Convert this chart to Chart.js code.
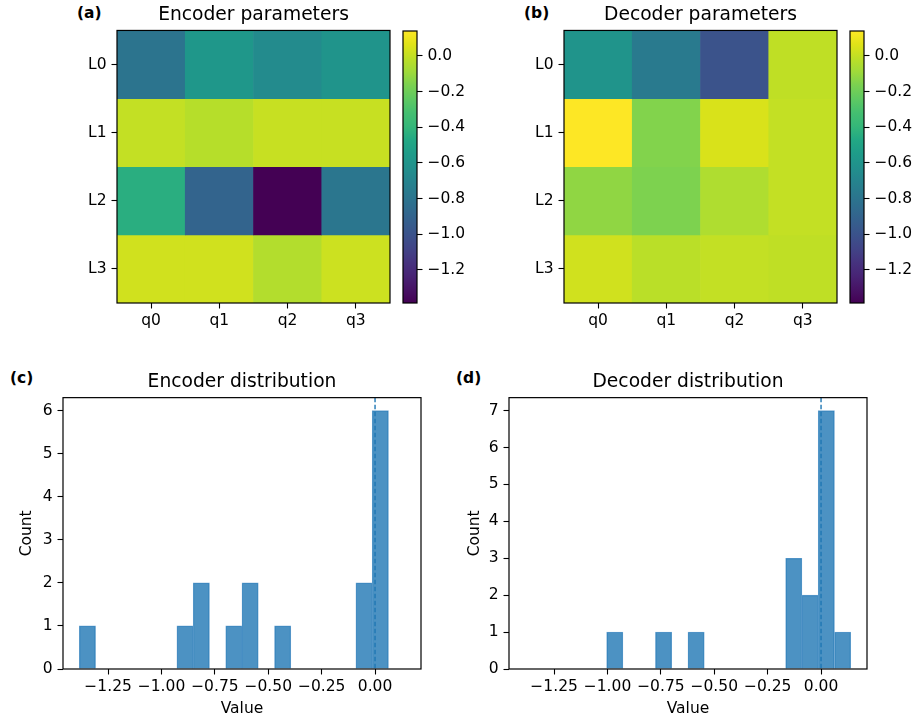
<!DOCTYPE html>
<html>
<head>
<meta charset="utf-8">
<script src="https://cdn.jsdelivr.net/npm/chart.js@4.4.1/dist/chart.umd.min.js"></script>
<style>
  body { margin: 0; background: #fff; }
  #wrap { position: relative; width: 917px; height: 724px; overflow: hidden; font-family: "DejaVu Sans", sans-serif; }
  canvas { position: absolute; }
  .tag { position: absolute; font-weight: bold; font-size: 15.5px; line-height: 1; color: #000; }
</style>
</head>
<body>
<div id="wrap">
  <div class="tag" style="left:77px;top:6px">(a)</div>
  <div class="tag" style="left:524px;top:6px">(b)</div>
  <div class="tag" style="left:10px;top:371px">(c)</div>
  <div class="tag" style="left:456px;top:371px">(d)</div>
  <canvas id="heatA" width="335" height="340" style="left:60px;top:0px"></canvas>
  <canvas id="cbarA" width="75" height="340" style="left:395px;top:0px"></canvas>
  <canvas id="heatB" width="335" height="340" style="left:507px;top:0px"></canvas>
  <canvas id="cbarB" width="75" height="340" style="left:842px;top:0px"></canvas>
  <canvas id="histC" width="430" height="364" style="left:0px;top:360px"></canvas>
  <canvas id="histD" width="477" height="364" style="left:440px;top:360px"></canvas>
</div>
<script>
const rowLabels = ["L0", "L1", "L2", "L3"];
const colLabels = ["q0", "q1", "q2", "q3"];

// encoder / decoder parameter grids, rows L0..L3, columns q0..q3
const encoderParams = [
  [-0.80, -0.58, -0.66, -0.60],
  [0.00, -0.03, 0.01, 0.01],
  [-0.44, -0.90, -1.385, -0.79],
  [0.03, 0.03, -0.04, 0.02]
];
const decoderParams = [
  [-0.60, -0.76, -1.00, -0.01],
  [0.139, -0.15, 0.05, 0.00],
  [-0.12, -0.16, -0.05, 0.00],
  [0.03, -0.02, 0.00, -0.01]
];

// histogram counts, 20 bins between the overall min and max
const encoderCounts = [1, 0, 0, 0, 0, 0, 1, 2, 0, 1, 2, 0, 1, 0, 0, 0, 0, 2, 6, 0];
const decoderCounts = [0, 0, 0, 0, 0, 1, 0, 0, 1, 0, 1, 0, 0, 0, 0, 0, 3, 2, 7, 1];

const colorbarTicks = [-1.2, -1.0, -0.8, -0.6, -0.4, -0.2, 0.0];
const histTicks = [-1.25, -1.0, -0.75, -0.5, -0.25, 0.0];
const refValue = 0;

const allParams = encoderParams.flat().concat(decoderParams.flat());
const vmin = Math.min(...allParams);
const vmax = Math.max(...allParams);
const binW = (vmax - vmin) / encoderCounts.length;
const histMargin = (vmax - vmin) * 0.05;

const viridisStops = ["#440154", "#471365", "#482475", "#46337f", "#414487", "#3b528b", "#355f8d",
  "#2f6c8e", "#2a788e", "#25848e", "#21918c", "#1e9c89", "#22a884", "#35b779", "#44bf70",
  "#5ec962", "#7ad151", "#9fda3a", "#bddf26", "#dfe318", "#fde725"];

function hexRgb(h) {
  return [parseInt(h.slice(1, 3), 16), parseInt(h.slice(3, 5), 16), parseInt(h.slice(5, 7), 16)];
}

function viridis(t) {
  t = Math.max(0, Math.min(1, t));
  const f = t * (viridisStops.length - 1);
  const i = Math.min(Math.floor(f), viridisStops.length - 2);
  const a = hexRgb(viridisStops[i]), b = hexRgb(viridisStops[i + 1]);
  const k = f - i;
  const c = a.map((v, j) => Math.round(v + (b[j] - v) * k));
  return "rgb(" + c.join(",") + ")";
}

function fmt(v, d) {
  return (v < -1e-9 ? "\u2212" : "") + Math.abs(v).toFixed(d);
}

Chart.defaults.font.family = "'DejaVu Sans', sans-serif";
Chart.defaults.color = "#000";

const tickFont = { size: 15.5 };

const frame = {
  id: "frame",
  afterDatasetsDraw(chart) {
    const { ctx, chartArea: a } = chart;
    ctx.save();
    ctx.strokeStyle = "#000";
    ctx.lineWidth = 1.2;
    ctx.strokeRect(a.left, a.top, a.right - a.left, a.bottom - a.top);
    ctx.restore();
  }
};

const refLine = {
  id: "refLine",
  afterDatasetsDraw(chart) {
    const { ctx, chartArea: a } = chart;
    const x = chart.scales.x.getPixelForValue(refValue);
    ctx.save();
    ctx.strokeStyle = "#1f77b4";
    ctx.lineWidth = 1.4;
    ctx.setLineDash([4.5, 2.5]);
    ctx.beginPath();
    ctx.moveTo(x, a.top);
    ctx.lineTo(x, a.bottom);
    ctx.stroke();
    ctx.restore();
  }
};

function axisGrid() {
  return { drawOnChartArea: false, offset: false, tickLength: 5.5, tickColor: "#000", tickWidth: 1.1 };
}

function heatmap(id, title, grid) {
  new Chart(document.getElementById(id), {
    type: "bar",
    data: {
      labels: colLabels,
      datasets: rowLabels.map((r, ri) => ({
        label: r,
        data: colLabels.map(() => [ri - 0.5, ri + 0.5]),
        backgroundColor: grid[ri].map(v => viridis((v - vmin) / (vmax - vmin))),
        borderWidth: 0,
        grouped: false,
        barPercentage: 1,
        categoryPercentage: 1
      }))
    },
    options: {
      responsive: false,
      animation: false,
      layout: { padding: { left: 0, right: 5, top: 0, bottom: 0 } },
      plugins: {
        legend: { display: false },
        tooltip: { enabled: false },
        title: {
          display: true, text: title, fullSize: false, color: "#000",
          font: { size: 18.7, weight: "normal" }, padding: { top: 4, bottom: 4 }
        }
      },
      scales: {
        x: {
          grid: axisGrid(),
          border: { display: false },
          ticks: { font: tickFont, color: "#000", padding: 3, maxRotation: 0 },
          afterFit: s => { s.height = 37; }
        },
        y: {
          type: "linear", min: -0.5, max: 3.5, reverse: true,
          afterBuildTicks: s => { s.ticks = rowLabels.map((_, i) => ({ value: i })); },
          grid: axisGrid(),
          border: { display: false },
          ticks: { font: tickFont, color: "#000", padding: 5, callback: v => rowLabels[v] },
          afterFit: s => { s.width = 57; }
        }
      }
    },
    plugins: [frame]
  });
}

function colorbar(id) {
  new Chart(document.getElementById(id), {
    type: "bar",
    data: {
      labels: [""],
      datasets: [{
        data: [[vmin, vmax]],
        borderWidth: 0,
        barPercentage: 1,
        categoryPercentage: 1,
        backgroundColor: c => {
          const ch = c.chart;
          if (!ch.chartArea) return null;
          const y0 = ch.scales.y.getPixelForValue(vmin);
          const y1 = ch.scales.y.getPixelForValue(vmax);
          const g = ch.ctx.createLinearGradient(0, y0, 0, y1);
          viridisStops.forEach((h, i) => g.addColorStop(i / (viridisStops.length - 1), h));
          return g;
        }
      }]
    },
    options: {
      responsive: false,
      animation: false,
      layout: { padding: { left: 8, right: 0, top: 31, bottom: 37 } },
      plugins: { legend: { display: false }, tooltip: { enabled: false } },
      scales: {
        x: { display: false },
        y: {
          position: "right", min: vmin, max: vmax,
          afterBuildTicks: s => { s.ticks = colorbarTicks.map(v => ({ value: v })); },
          grid: axisGrid(),
          border: { display: false },
          ticks: { font: tickFont, color: "#000", padding: 5, callback: v => fmt(v, 1) },
          afterFit: s => { s.width = 53; }
        }
      }
    },
    plugins: [frame]
  });
}

function histogram(id, title, counts, padLeft, padRight, yWidth) {
  const yMax = Math.max(...counts) * 1.05;
  new Chart(document.getElementById(id), {
    type: "bar",
    data: {
      datasets: [{
        data: counts.map((n, i) => ({ x: vmin + (i + 0.5) * binW, y: n })),
        backgroundColor: "rgba(31,119,180,0.8)",
        borderColor: "rgb(112,166,210)",
        borderWidth: 0.7,
        barPercentage: 1,
        categoryPercentage: 1
      }]
    },
    options: {
      responsive: false,
      animation: false,
      layout: { padding: { left: padLeft, right: padRight, top: 7.2, bottom: 0 } },
      plugins: {
        legend: { display: false },
        tooltip: { enabled: false },
        title: {
          display: true, text: title, fullSize: false, color: "#000",
          font: { size: 18.7, weight: "normal" }, padding: { top: 4, bottom: 4 }
        }
      },
      scales: {
        x: {
          type: "linear", offset: false,
          min: vmin - histMargin, max: vmax + histMargin,
          afterBuildTicks: s => { s.ticks = histTicks.map(v => ({ value: v })); },
          grid: axisGrid(),
          border: { display: false },
          ticks: { font: tickFont, color: "#000", padding: 3, maxRotation: 0, callback: v => fmt(v, 2) },
          title: { display: true, text: "Value", font: tickFont, color: "#000", padding: { top: 2, bottom: 6 } },
          afterFit: s => { s.height = 55; }
        },
        y: {
          min: 0, max: yMax,
          afterBuildTicks: s => {
            const t = [];
            for (let v = 0; v <= yMax; v++) t.push({ value: v });
            s.ticks = t;
          },
          grid: axisGrid(),
          border: { display: false },
          ticks: { font: tickFont, color: "#000", padding: 5 },
          title: { display: true, text: "Count", font: tickFont, color: "#000", padding: { top: 4, bottom: 4 } },
          afterFit: s => { s.width = yWidth; }
        }
      }
    },
    plugins: [refLine, frame]
  });
}

heatmap("heatA", "Encoder parameters", encoderParams);
colorbar("cbarA");
heatmap("heatB", "Decoder parameters", decoderParams);
colorbar("cbarB");
histogram("histC", "Encoder distribution", encoderCounts, 13.6, 9, 49.4);
histogram("histD", "Decoder distribution", decoderCounts, 21.6, 50, 47.4);
</script>
</body>
</html>
